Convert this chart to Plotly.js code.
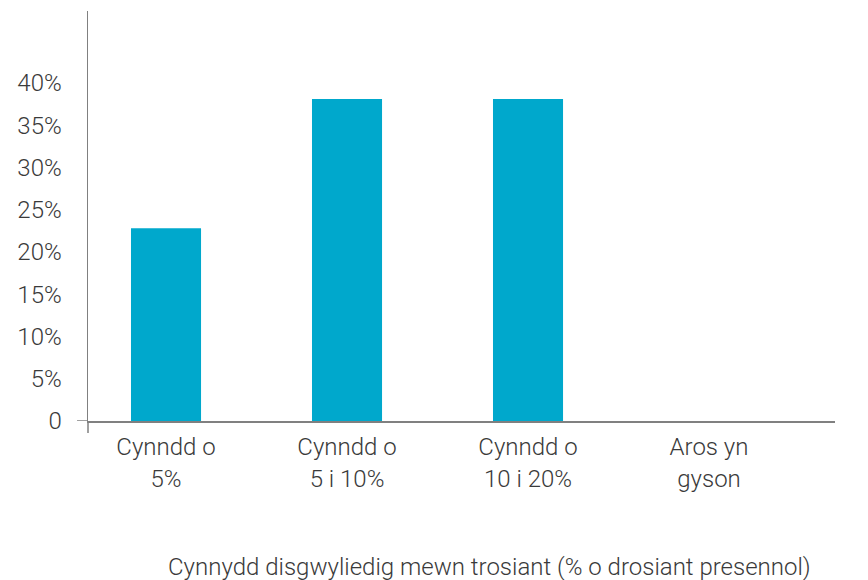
<!DOCTYPE html>
<html>
<head>
<meta charset="utf-8">
<script src="https://cdn.plot.ly/plotly-3.0.1.min.js"></script>
<style>html,body{margin:0;padding:0;background:#fff;}#chart{width:868px;height:580px;}</style>
</head>
<body>
<div id="chart"></div>
<script>
const categories = ["Cynndd o<br>5%", "Cynndd o<br>5 i 10%", "Cynndd o<br>10 i 20%", "Aros yn<br>gyson"];
const values = [22.8, 38.1, 38.1, 0];
const yTickVals = [0, 5, 10, 15, 20, 25, 30, 35, 40];
const yTickText = ["0", "5%", "10%", "15%", "20%", "25%", "30%", "35%", "40%"];
const xTitle = "Cynnydd disgwyliedig mewn trosiant (% o drosiant presennol)";

const fontFamily = "Roboto, 'Liberation Sans', Arial, sans-serif";
const textColor = "#3a3a3a";
const axisColor = "#808080";

const trace = {
  type: "bar",
  x: [0, 1, 2, 3],
  y: values,
  width: 0.387,
  marker: {color: "#00a8cc"},
  hoverinfo: "skip"
};

const layout = {
  width: 868,
  height: 580,
  margin: {l: 88, r: 33, t: 11, b: 159},
  paper_bgcolor: "#ffffff",
  plot_bgcolor: "#ffffff",
  showlegend: false,
  font: {family: fontFamily, size: 24, color: textColor, weight: 300},
  xaxis: {
    range: [-0.431, 3.696],
    tickvals: [0, 1, 2, 3],
    ticktext: categories,
    showgrid: false,
    zeroline: false,
    showline: true,
    linecolor: axisColor,
    linewidth: 1.5,
    ticks: "",
    ticklabelstandoff: 4,
    tickfont: {family: fontFamily, size: 24, color: textColor, weight: 300},
    fixedrange: true
  },
  yaxis: {
    range: [0, 48.5],
    tickvals: yTickVals,
    ticktext: yTickText,
    showgrid: false,
    zeroline: false,
    showline: true,
    linecolor: axisColor,
    linewidth: 1.5,
    ticks: "",
    ticklabelstandoff: 20,
    tickfont: {family: fontFamily, size: 24, color: textColor, weight: 300},
    fixedrange: true
  },
  shapes: [
    {type: "line", xref: "paper", yref: "y", x0: -0.0147, x1: 0, y0: 0, y1: 0,
     line: {color: axisColor, width: 1.5}},
    {type: "line", xref: "paper", yref: "paper", x0: 0, x1: 0, y0: -0.029, y1: 0,
     line: {color: axisColor, width: 1.5}}
  ],
  annotations: [
    {text: xTitle, xref: "paper", yref: "paper", x: 0.538, y: -0.356,
     xanchor: "center", yanchor: "middle", showarrow: false,
     font: {family: fontFamily, size: 24, color: textColor, weight: 300}}
  ]
};

Plotly.newPlot("chart", [trace], layout, {displayModeBar: false, staticPlot: true});
</script>
</body>
</html>
